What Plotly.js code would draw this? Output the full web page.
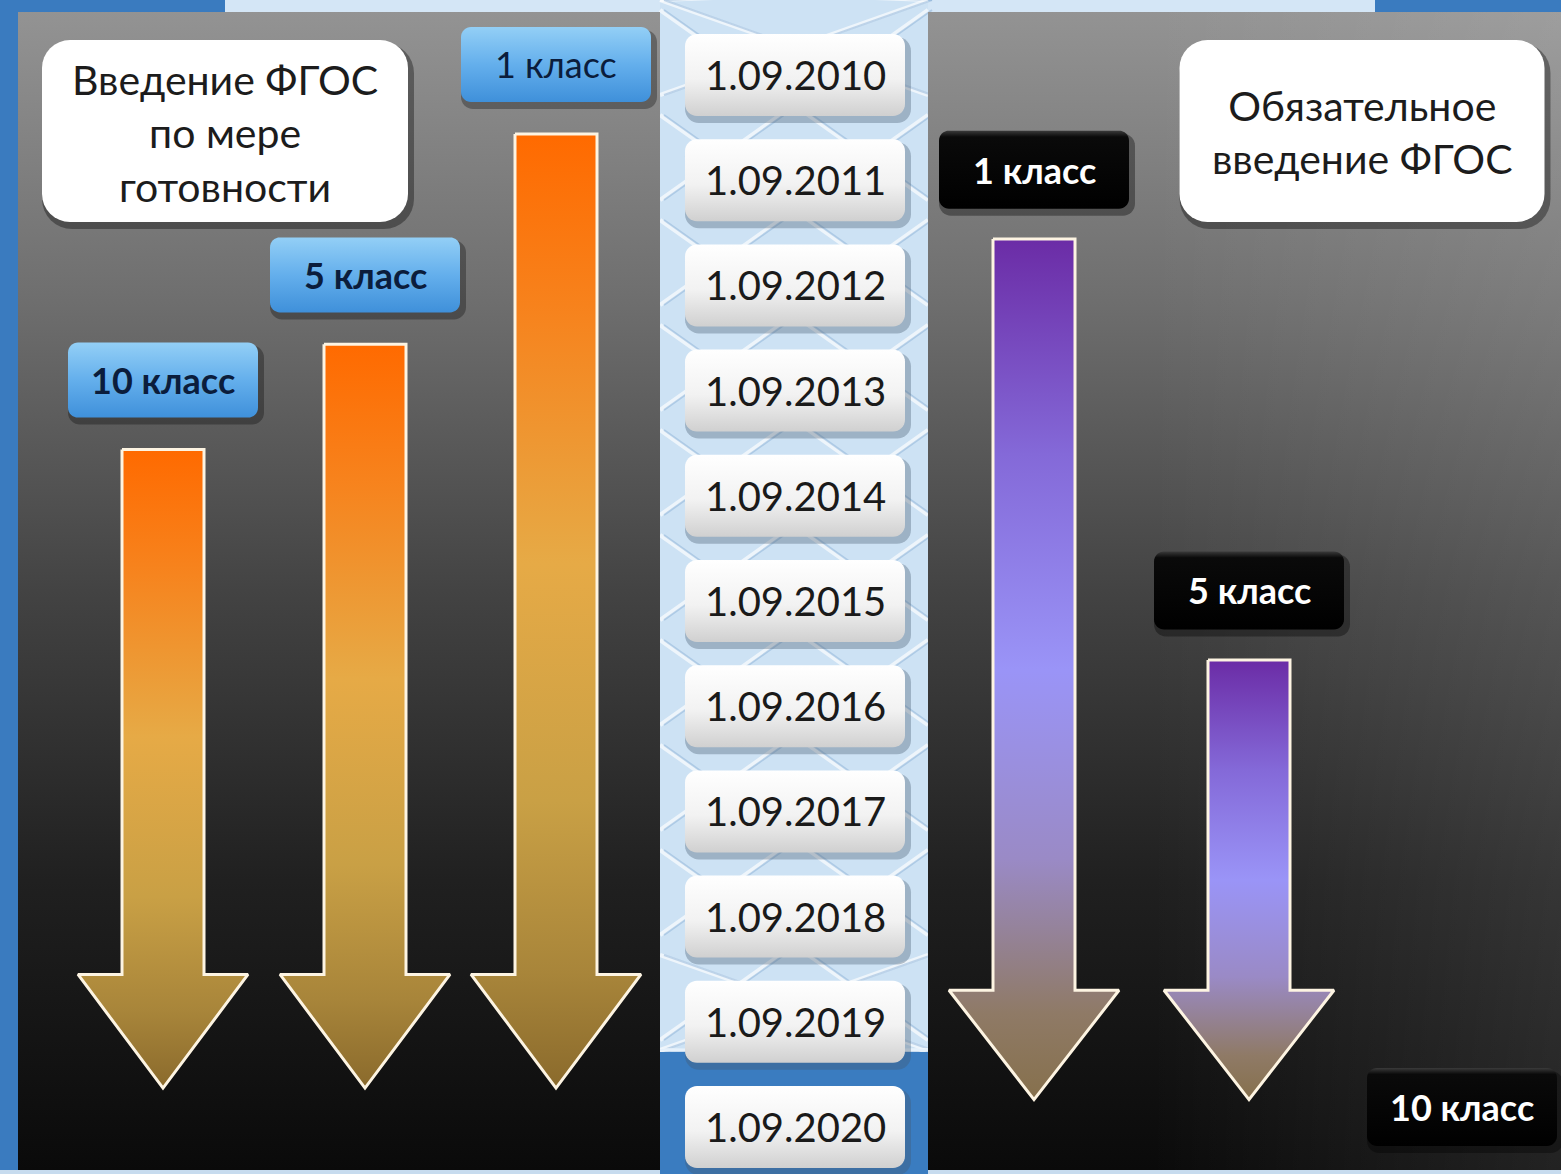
<!DOCTYPE html>
<html>
<head>
<meta charset="utf-8">
<script src="https://cdn.plot.ly/plotly-3.0.1.min.js"></script>
<style>html,body{margin:0;padding:0;background:#3a7bbf;overflow:hidden}</style>
</head>
<body>
<div id="chart" style="width:1561px;height:1174px"></div>
<script>
// ---------------- DATA ----------------
const dates = ['1.09.2010','1.09.2011','1.09.2012','1.09.2013','1.09.2014','1.09.2015',
               '1.09.2016','1.09.2017','1.09.2018','1.09.2019','1.09.2020'];
const dateYears = [2010,2011,2012,2013,2014,2015,2016,2017,2018,2019,2020];

const leftTitle = 'Введение ФГОС<br>по мере<br>готовности';
const leftGrades = ['1 класс','5 класс','10 класс'];
const leftStart = [2010, 2012, 2013];

const rightTitle = 'Обязательное<br>введение ФГОС';
const rightGrades = ['1 класс','5 класс','10 класс'];
const rightStart = [2011, 2015, 2020];

const endYear = 2020;

// ---------------- LAYOUT / STYLE ----------------
const W = 1561, H = 1174;
const PXY = 105.2;          // pixels per year on the y axis
const Y2010PX = 75;         // pixel row of 2010
const yr = px => 2010 + (px - Y2010PX) / PXY;
const FONT = "Lato, 'Noto Sans', sans-serif";

const leftX = [556, 365, 163];
const rightX = [1034, 1249, 1462];
const leftBold = [false, true, true];

const traces = [];
const annotations = [];
const shapes = [];

function addPoly(xs, ys, o) {
  const t = {type:'scatter', x:xs, y:ys, fill:'toself', hoverinfo:'skip', showlegend:false};
  if (o.lineWidth) { t.mode = 'lines'; t.line = {color:o.lineColor, width:o.lineWidth}; }
  else { t.mode = 'none'; }
  if (o.gradient) t.fillgradient = o.gradient; else t.fillcolor = o.fill;
  traces.push(t);
}

function rrect(cx, cy, w, h, r) { // cx px, cy year, w/h/r px
  const xs = [], ys = [];
  const cs = [[w/2-r, -h/2+r, -90], [w/2-r, h/2-r, 0], [-w/2+r, h/2-r, 90], [-w/2+r, -h/2+r, 180]];
  cs.forEach(c => {
    for (let k = 0; k <= 8; k++) {
      const a = (c[2] + k * 90 / 8) * Math.PI / 180;
      xs.push(cx + c[0] + r * Math.cos(a));
      ys.push(cy + (c[1] + r * Math.sin(a)) / PXY);
    }
  });
  xs.push(xs[0]); ys.push(ys[0]);
  return [xs, ys];
}

function box(cx, cy, w, h, r, fillOpt, shadow) {
  if (shadow) {
    const s = rrect(cx + 3, cy + 5 / PXY, w + 6, h + 4, r + 2);
    addPoly(s[0], s[1], {fill: shadow});
  }
  const b = rrect(cx, cy, w, h, r);
  if (fillOpt.scale) {
    addPoly(b[0], b[1], {gradient: {type:'vertical', colorscale: fillOpt.scale,
      start: cy - h / 2 / PXY, stop: cy + h / 2 / PXY}});
  } else {
    addPoly(b[0], b[1], {fill: fillOpt.color});
  }
}

function rectPoly(x0, x1, y0, y1, o) {
  addPoly([x0, x1, x1, x0, x0], [y0, y0, y1, y1, y0], o);
}

function arrow(cx, topY, headY, tipY, scale) {
  const sw = 41, hw = 85;
  const xs = [cx-sw, cx+sw, cx+sw, cx+hw, cx, cx-hw, cx-sw, cx-sw];
  const ys = [topY, topY, headY, headY, tipY, headY, headY, topY];
  addPoly(xs, ys, {lineWidth: 3, lineColor: '#fdf4e2',
    gradient: {type:'vertical', colorscale: scale, start: topY, stop: tipY}});
}

// ---------------- BACKGROUND ----------------
shapes.push({type:'rect', xref:'x', yref:'paper', x0:225, x1:1375, y0:1 - 14/H, y1:1,
  fillcolor:'#d4e6f6', line:{width:0}, layer:'below'});
shapes.push({type:'rect', xref:'x', yref:'paper', x0:660, x1:928, y0:1 - 1050/H, y1:1,
  fillcolor:'#cde2f4', line:{width:0}, layer:'below'});
for (let k = -2; k < 12; k++) {
  const yt = 10 + k * 105;
  [[660, 928], [928, 660]].forEach(p => {
    shapes.push({type:'line', xref:'x', yref:'paper', x0:p[0], x1:p[1],
      y0:1 - Math.max(0, yt) / H, y1:1 - Math.min(1050, yt + 190) / H,
      line:{color:'rgba(255,255,255,0.65)', width:4}, layer:'below'});
    shapes.push({type:'line', xref:'x', yref:'paper', x0:p[0] + 4, x1:p[1] + 4,
      y0:1 - Math.max(0, yt) / H, y1:1 - Math.min(1050, yt + 190) / H,
      line:{color:'rgba(130,170,210,0.45)', width:2}, layer:'below'});
  });
}
shapes.push({type:'line', xref:'x', yref:'paper', x0:660, x1:928, y0:1 - 1050/H, y1:1 - 1050/H,
  line:{color:'#e6f1fb', width:3}, layer:'below'});
shapes.push({type:'rect', xref:'x', yref:'paper', x0:0, x1:W, y0:0, y1:4/H,
  fillcolor:'#c7dbee', line:{width:0}, layer:'below'});

const panelScale = [[0,'#939393'],[0.25,'#6e6e6e'],[0.5,'#434343'],[0.75,'#202020'],[1,'#0a0a0a']];
rectPoly(18, 660, yr(12), yr(1170), {gradient:{type:'vertical', colorscale:panelScale, start:yr(12), stop:yr(1170)}});
rectPoly(928, W, yr(12), yr(1170), {gradient:{type:'vertical', colorscale:panelScale, start:yr(12), stop:yr(1170)}});
rectPoly(1150, W, yr(12), yr(1170), {gradient:{type:'horizontal',
  colorscale:[[0,'rgba(255,255,255,0)'],[1,'rgba(255,255,255,0.10)']], start:1150, stop:W}});

// ---------------- TITLE BOXES ----------------
box(225, yr(131), 366, 182, 28, {color:'#ffffff'}, 'rgba(0,0,0,0.35)');
annotations.push({x:225, y:yr(133), xref:'x', yref:'y', text:leftTitle, showarrow:false,
  font:{family:FONT, size:41, color:'#1c1c1c'}, align:'center'});
box(1362, yr(131), 365, 182, 28, {color:'#ffffff'}, 'rgba(0,0,0,0.35)');
annotations.push({x:1362, y:yr(132), xref:'x', yref:'y', text:rightTitle, showarrow:false,
  font:{family:FONT, size:41, color:'#1c1c1c'}, align:'center'});

// ---------------- ARROWS ----------------
const orangeScale = [[0,'#ff6a00'],[0.18,'#f7821c'],[0.45,'#e6aa46'],[0.7,'#c9a045'],[0.88,'#a8853a'],[1,'#8a6a2c']];
const purpleScale = [[0,'#6b2ca6'],[0.25,'#8469d8'],[0.5,'#9a94f7'],[0.72,'#9a8ac6'],[0.9,'#8f7a66'],[1,'#86704c']];

leftStart.forEach((s, i) => {
  if (s < endYear) arrow(leftX[i], s + 0.56, endYear - 1.45, endYear - 0.37, orangeScale);
});
rightStart.forEach((s, i) => {
  if (s < endYear) arrow(rightX[i], s + 0.56, endYear - 1.30, endYear - 0.26, purpleScale);
});

// ---------------- GRADE LABELS ----------------
const blueScale = [[0,'#93cff6'],[0.5,'#64afec'],[1,'#3f90da']];
leftGrades.forEach((g, i) => {
  const cy = leftStart[i] - 0.1;
  box(leftX[i], cy, 190, 75, 10, {scale: blueScale}, 'rgba(0,0,0,0.3)');
  annotations.push({x:leftX[i], y:cy, xref:'x', yref:'y', showarrow:false,
    text: leftBold[i] ? '<b>' + g + '</b>' : g,
    font:{family:FONT, size:36, color:'#0b1d3c'}});
});
const blackScale = [[0,'#3a3a3a'],[0.08,'#0a0a0a'],[1,'#000000']];
rightGrades.forEach((g, i) => {
  const cy = rightStart[i] - (i === 2 ? 0.19 : 0.1);
  box(rightX[i], cy, 190, 78, 10, {scale: blackScale}, 'rgba(0,0,0,0.35)');
  annotations.push({x:rightX[i], y:cy, xref:'x', yref:'y', showarrow:false, text:'<b>' + g + '</b>',
    font:{family:FONT, size:36, color:'#ffffff'}});
});

// ---------------- DATE LABELS ----------------
shapes.push({type:'rect', xref:'x', yref:'paper', x0:660, x1:928, y0:0, y1:1 - 1052/H,
  fillcolor:'#3a7cc0', line:{width:0}, layer:'below'});
const dateScale = [[0,'#ffffff'],[0.55,'#f2f2f2'],[1,'#d0d0d0']];
dateYears.forEach((y, i) => {
  box(795, y, 220, 82, 12, {scale: dateScale}, 'rgba(70,90,110,0.35)');
  annotations.push({x:795, y:y, xref:'x', yref:'y', text:dates[i], showarrow:false,
    font:{family:FONT, size:40, color:'#1a1a1a'}});
});

const layout = {
  width: W, height: H,
  margin: {l:0, r:0, t:0, b:0, pad:0},
  paper_bgcolor: '#3a7bbf', plot_bgcolor: 'rgba(0,0,0,0)',
  showlegend: false,
  xaxis: {range:[0, W], visible:false, fixedrange:true},
  yaxis: {range:[yr(H), yr(0)], visible:false, fixedrange:true},
  shapes: shapes,
  annotations: annotations
};

Plotly.newPlot('chart', traces, layout, {staticPlot:true, displayModeBar:false});
</script>
</body>
</html>
